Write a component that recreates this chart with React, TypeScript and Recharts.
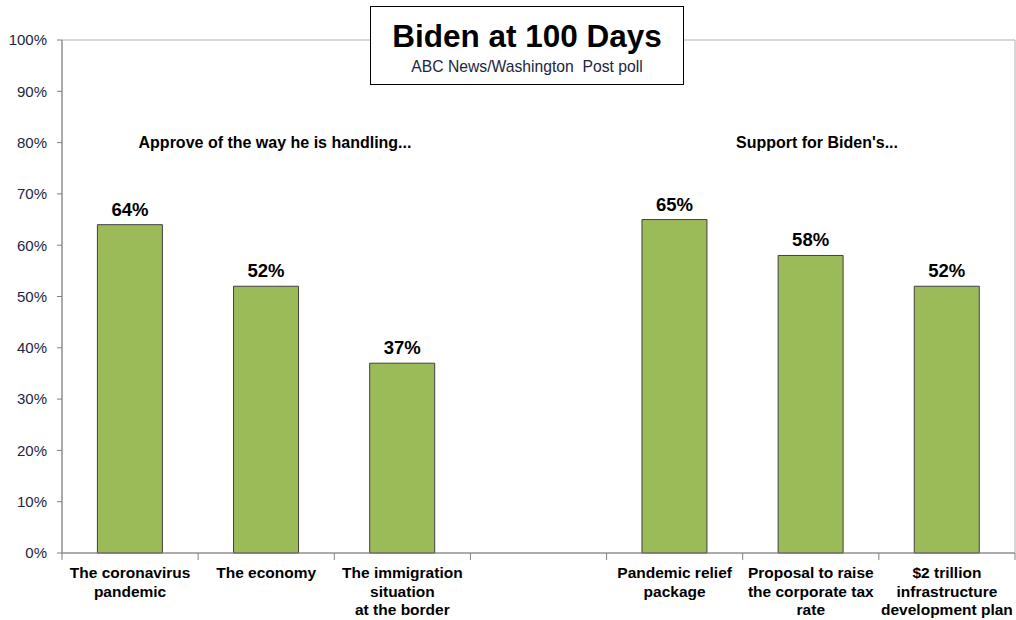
import React from "react";
import { BarChart, Bar, XAxis, YAxis, LabelList, ReferenceArea } from "recharts";

const categories = [
  "The coronavirus\npandemic",
  "The economy",
  "The immigration\nsituation\nat the border",
  "",
  "Pandemic relief\npackage",
  "Proposal to raise\nthe corporate tax\nrate",
  "$2 trillion\ninfrastructure\ndevelopment plan",
];
const values: (number | null)[] = [64, 52, 37, null, 65, 58, 52];
const yTicks = [0, 10, 20, 30, 40, 50, 60, 70, 80, 90, 100];

const data = categories.map((c, i) => ({ name: c, key: "c" + i, value: values[i] }));

const W = 1016;
const H = 620;
const LEFT = 62;
const RIGHT = 1;
const TOP = 40;
const BOTTOM = 67;
const PLOT_W = W - LEFT - RIGHT;
const BW = PLOT_W / categories.length;
const FONT = "Arial, 'Liberation Sans', sans-serif";

const XTick = (props: any) => {
  const { x, y, index } = props;
  const label = categories[index] ?? "";
  const lines = label ? label.split("\n") : [];
  const axisY = y - 8;
  return (
    <g>
      <line x1={x - BW / 2} x2={x - BW / 2} y1={axisY} y2={axisY + 7} stroke="#808080" />
      {index === categories.length - 1 && (
        <line x1={x + BW / 2} x2={x + BW / 2} y1={axisY} y2={axisY + 7} stroke="#808080" />
      )}
      <text
        x={x}
        y={axisY + 25}
        textAnchor="middle"
        fontFamily={FONT}
        fontWeight="bold"
        fontSize={15.5}
        fill="#000"
      >
        {lines.map((l: string, i: number) => (
          <tspan key={i} x={x} dy={i === 0 ? 0 : 18.5}>
            {l}
          </tspan>
        ))}
      </text>
    </g>
  );
};

export default function App() {
  return (
    <div style={{ position: "absolute", left: 0, top: 0, width: W, height: H, background: "#fff", fontFamily: FONT }}>
      <BarChart
        width={W}
        height={H}
        data={data}
        margin={{ top: TOP, right: RIGHT, bottom: 0, left: 0 }}
        barCategoryGap="26%"
      >
        <ReferenceArea y1={0} y2={100} fill="none" stroke="#b0b0b0" strokeWidth={1} />
        <XAxis
          dataKey="key"
          tickLine={false}
          axisLine={{ stroke: "#808080" }}
          tick={<XTick />}
          interval={0}
          height={BOTTOM}
        />
        <YAxis
          domain={[0, 100]}
          ticks={yTicks}
          tickFormatter={(v: number) => v + "%"}
          width={LEFT}
          tickSize={5}
          tickMargin={10}
          tickLine={{ stroke: "#808080" }}
          axisLine={{ stroke: "#808080" }}
          tick={{ fill: "#1c2541", fontSize: 15, fontFamily: FONT }}
          interval={0}
        />
        <Bar dataKey="value" fill="#9BBB59" stroke="#404040" strokeWidth={1} isAnimationActive={false}>
          <LabelList
            dataKey="value"
            position="top"
            offset={9}
            formatter={(v: any) => (v == null ? "" : v + "%")}
            style={{ fontFamily: FONT, fontWeight: "bold", fontSize: 18.5, fill: "#000" }}
          />
        </Bar>
      </BarChart>
      <div
        style={{
          position: "absolute",
          left: 370,
          top: 6,
          width: 312,
          height: 77,
          border: "1px solid #000",
          background: "#fff",
          textAlign: "center",
        }}
      >
        <div style={{ fontSize: 31.5, fontWeight: "bold", lineHeight: "34px", marginTop: 12, color: "#000" }}>
          Biden at 100 Days
        </div>
        <div style={{ fontSize: 15.7, lineHeight: "18px", whiteSpace: "pre", color: "#1c2541", marginTop: 5 }}>
          {"ABC News/Washington  Post poll"}
        </div>
      </div>
      <div
        style={{
          position: "absolute",
          left: 100,
          width: 350,
          top: 134,
          textAlign: "center",
          fontSize: 16,
          fontWeight: "bold",
          color: "#000",
        }}
      >
        Approve of the way he is handling...
      </div>
      <div
        style={{
          position: "absolute",
          left: 667,
          width: 300,
          top: 134,
          textAlign: "center",
          fontSize: 16,
          fontWeight: "bold",
          color: "#000",
        }}
      >
        Support for Biden's...
      </div>
    </div>
  );
}
